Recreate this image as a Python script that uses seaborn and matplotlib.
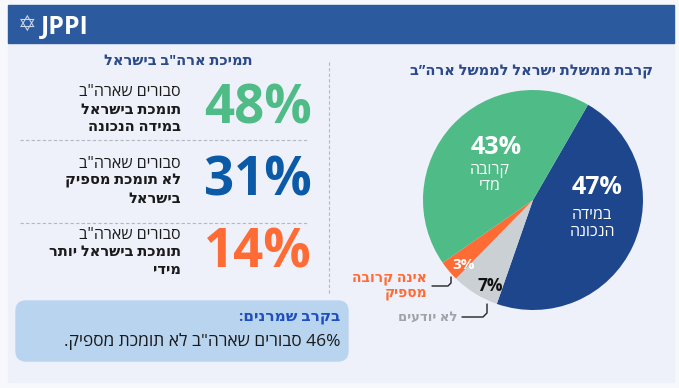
import re
import matplotlib.pyplot as plt
import seaborn as sns
from matplotlib.patches import Rectangle, FancyBboxPatch

# Data
pie_labels = ["במידה הנכונה", "לא יודעים", "אינה קרובה מספיק", "קרובה מדי"]
pie_values = [47, 7, 3, 43]
pie_colors = ["#1d468d", "#cbd0d4", "#ff6b35", "#4fbb86"]

support_values = [48, 31, 14]
support_colors = ["#4fbb86", "#0b5aa8", "#ff6b35"]
support_lines = [
    ["סבורים שארה\"ב", "תומכת בישראל", "במידה הנכונה"],
    ["סבורים שארה\"ב", "לא תומכת מספיק", "בישראל"],
    ["סבורים שארה\"ב", "תומכת בישראל יותר", "מידי"],
]


def rtl(s):
    # matplotlib has no bidi support, so flip Hebrew to visual order
    r = s[::-1]
    return re.sub(r"[0-9%]+", lambda m: m.group(0)[::-1], r)


def pixel_axes(fig):
    ax = fig.add_axes([0, 0, 1, 1])
    ax.set_xlim(0, W)
    ax.set_ylim(H, 0)
    ax.axis("off")
    ax.patch.set_alpha(0)
    return ax


sns.set_theme(style="white")
plt.rcParams["font.family"] = ["Open Sans", "DejaVu Sans"]

W, H = 679, 388
fig = plt.figure(figsize=(W / 100, H / 100), dpi=100, facecolor="#f7f8fc")
bg = pixel_axes(fig)

# panel + header
bg.add_patch(Rectangle((8, 5), 666, 377, color="#eef1fa", zorder=0))
bg.add_patch(Rectangle((8, 5), 666, 38, color="#2b5a9e", zorder=1))
bg.text(27, 25, "✡", color="#c9d6ee", fontsize=16, ha="center", va="center",
        family="DejaVu Sans")
bg.text(41, 27, "JPPI", color="white", fontsize=18, fontweight="bold",
        ha="left", va="center")

navy = "#2c4a8a"
bg.text(178, 61, rtl("תמיכת ארה\"ב בישראל"), color=navy, fontsize=10.5,
        fontweight="bold", ha="center", va="center")
bg.text(532, 72, rtl("קרבת ממשלת ישראל לממשל ארה”ב"), color=navy, fontsize=10.5,
        fontweight="bold", ha="center", va="center")

# dividers
bg.plot([329, 329], [62, 295], ls=(0, (3, 2)), color="#b5b8c0", lw=0.8)
for y in [140, 223]:
    bg.plot([20, 308], [y, y], ls=(0, (3, 2)), color="#b5b8c0", lw=0.8)

# left column: big numbers and captions
num_y = [110, 182, 253]
for i, (v, c, lines) in enumerate(zip(support_values, support_colors, support_lines)):
    bg.text(258, num_y[i], f"{v}%", color=c, fontsize=38, fontweight="bold",
            ha="center", va="center")
    for j, line in enumerate(lines):
        bg.text(181, num_y[i] - 18 + j * 17.5, rtl(line), color="#1a1a1a",
                fontsize=11.5 if j == 0 else 10.5,
                fontweight="normal" if j == 0 else "bold",
                ha="right", va="center")

# bottom note box
bg.add_patch(FancyBboxPatch((16, 301), 332, 60, boxstyle="round,pad=0,rounding_size=10",
                            color="#b9d4ef", zorder=1))
bg.text(340, 317, rtl("בקרב שמרנים:"), color="#1f4fbf", fontsize=11,
        fontweight="bold", ha="right", va="center")
bg.text(340, 341, rtl("46% סבורים שארה\"ב לא תומכת מספיק."), color="#1a1a1a",
        fontsize=12.5, ha="right", va="center")

# pie
cx, cy, r = 533, 200, 110
pax = fig.add_axes([(cx - r) / W, (H - cy - r) / H, 2 * r / W, 2 * r / H])
pax.pie(pie_values, colors=pie_colors, startangle=60, counterclock=False,
        wedgeprops=dict(linewidth=0))
pax.set_xlim(-1, 1)
pax.set_ylim(-1, 1)

# pie labels on an overlay
top = pixel_axes(fig)
top.text(496, 148, "43%", color="white", fontsize=18, fontweight="bold", ha="center", va="center")
top.text(490, 170, rtl("קרובה"), color="white", fontsize=11.5, ha="center", va="center")
top.text(490, 186, rtl("מדי"), color="white", fontsize=11.5, ha="center", va="center")
top.text(597, 188, "47%", color="white", fontsize=18, fontweight="bold", ha="center", va="center")
top.text(592, 215, rtl("במידה"), color="white", fontsize=11.5, ha="center", va="center")
top.text(592, 232, rtl("הנכונה"), color="white", fontsize=11.5, ha="center", va="center")
top.text(464, 265, "3%", color="white", fontsize=11, fontweight="bold", ha="center", va="center")
top.text(490, 286, "7%", color="#111111", fontsize=12.5, fontweight="bold", ha="center", va="center")

top.text(427, 278, rtl("אינה קרובה"), color="#ff6b35", fontsize=10, fontweight="bold",
         ha="right", va="center")
top.text(427, 293, rtl("מספיק"), color="#ff6b35", fontsize=10, fontweight="bold",
         ha="right", va="center")
top.plot([432, 448, 451, 451], [286, 286, 283, 277], color="#222222", lw=1)
top.text(457, 317, rtl("לא יודעים"), color="#a0a4a8", fontsize=9.5, fontweight="bold",
         ha="right", va="center")
top.plot([462, 483, 487, 487], [317, 317, 313, 304], color="#222222", lw=1)

fig.savefig("out.png", dpi=100, facecolor=fig.get_facecolor())
